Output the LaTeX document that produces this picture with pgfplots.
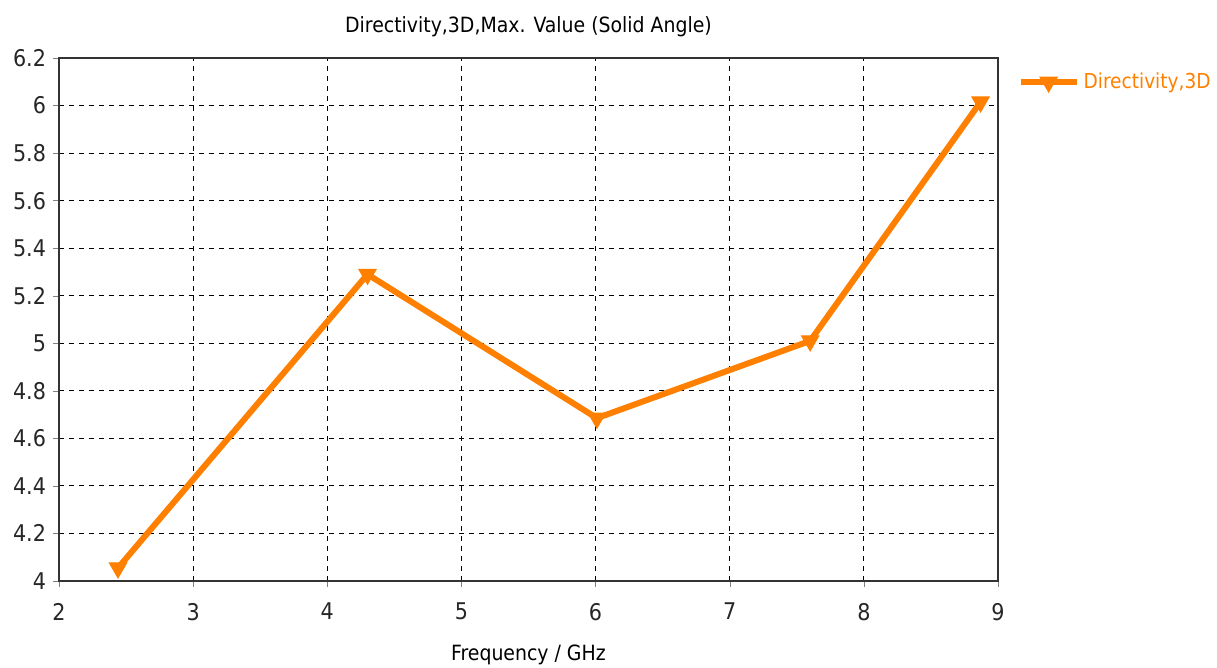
\documentclass[border=0pt]{standalone}
\usepackage{fontspec}
\setmainfont{DejaVu Sans Condensed}
\usepackage{pgfplots}
\pgfplotsset{compat=1.18}
\definecolor{cstor}{RGB}{255,128,0}
\begin{document}
\begin{tikzpicture}
\useasboundingbox (-29.5pt,-43.5pt) rectangle (579pt,290.5pt);
\begin{axis}[
  scale only axis,
  width=469.5pt, height=261.5pt,
  at={(0pt,0pt)}, anchor=south west,
  xmin=2, xmax=9, ymin=4, ymax=6.2,
  xtick={2,3,...,9},
  ytick={4,4.2,4.4,4.6,4.8,5,5.2,5.4,5.6,5.8,6,6.2},
  yticklabel style={/pgf/number format/fixed,/pgf/number format/precision=1},
  xticklabel style={yshift=-4.5pt},
  /pgf/number format/assume math mode=true,
  tick label style={font=\fontsize{11.5}{13}\selectfont, text=black!85},
  tick align=outside, major tick length=3pt,
  xtick pos=bottom, ytick pos=left,
  grid=major,
  grid style={dashed, black, line width=0.5pt, dash pattern=on 2.5pt off 2.5pt},
  axis line style={black!80, line width=0.6pt},
  title={Directivity,3D,Max. Value (Solid Angle)},
  title style={font=\fontsize{10.5}{12}\selectfont, at={(0.5,1)}, anchor=south, yshift=1pt},
  xlabel={Frequency / GHz},
  xlabel style={font=\fontsize{10.5}{12}\selectfont, yshift=-5.5pt},
  legend style={draw=none, fill=none, at={(rel axis cs:1.0205,0.954)}, anchor=west,
    font=\fontsize{10.3}{12}\selectfont, text=cstor, inner sep=0pt},
  legend cell align=left,
  legend image code/.code={
    \draw[#1, mark repeat=2, mark phase=2] plot coordinates {(0pt,0pt) (14pt,0pt) (28pt,0pt)};
  },
]
\addplot[color=cstor, line width=3pt, mark=triangle*, mark size=5pt,
  mark options={rotate=180, solid, line width=0.5pt}]
  coordinates {
    (2.44,4.055)
    (4.30,5.29)
    (6.01,4.685)
    (7.60,5.01)
    (8.87,6.015)
  };
\addlegendentry{Directivity,3D}
\end{axis}
\end{tikzpicture}
\end{document}
